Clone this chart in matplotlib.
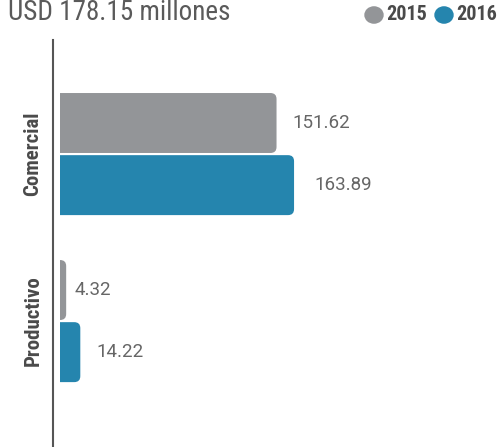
import matplotlib.pyplot as plt
from matplotlib.patches import FancyBboxPatch, Rectangle
from matplotlib import font_manager

# Data (USD millones)
categories = ['Comercial', 'Productivo']
years = ['2015', '2016']
values_2015 = [151.62, 4.32]
values_2016 = [163.89, 14.22]
labels_2015 = ['151.62', '4.32']
labels_2016 = ['163.89', '14.22']
title = 'USD 178.15 millones'

colors = {'2015': '#939598', '2016': '#2585ae'}
text_grey = '#5a5a5a'

# narrowest family available
names = {f.name for f in font_manager.fontManager.ttflist}
narrow = [n for n in ['Roboto Condensed', 'Liberation Sans Narrow', 'DejaVu Sans Condensed', 'Roboto']
          if n in names] or ['DejaVu Sans']
narrow = narrow[:1]
plain = ['Roboto'] if 'Roboto' in names else ['DejaVu Sans']

W, H = 498, 447
fig = plt.figure(figsize=(W / 100, H / 100), dpi=100)
fig.patch.set_facecolor('white')

# axes: left spine at x=53px, top at y=40px, runs to the bottom edge
ax = fig.add_axes([53 / W, 0, (W - 53) / W, (H - 40) / H])

bar_h = 0.359
offset = 0.186
pos = list(range(len(categories)))

bars15 = ax.barh([p - offset for p in pos], values_2015, height=bar_h, color=colors['2015'])
bars16 = ax.barh([p + offset for p in pos], values_2016, height=bar_h, color=colors['2016'])

ax.set_xlim(-4.9, 306.7)
ax.set_ylim(1.754, -0.683)

# swap plain bars for right-rounded ones
px_x = (W - 53) / (306.7 + 4.9)          # px per x unit
px_y = (H - 40) / (1.754 + 0.683)       # px per y unit
rad_px = 6
clip = Rectangle((0, -1), 400, 4, transform=ax.transData, visible=False)
ax.add_patch(clip)
for bars in (bars15, bars16):
    for b in bars:
        x0, y0 = b.get_x(), b.get_y()
        w, h = b.get_width(), b.get_height()
        b.set_visible(False)
        r = min(rad_px / px_x, w * 0.8 + 1)
        fb = FancyBboxPatch((x0 - r, y0), w + r, h,
                            boxstyle=f'round,pad=0,rounding_size={r}',
                            mutation_aspect=px_x / px_y,
                            facecolor=b.get_facecolor(), edgecolor='none')
        ax.add_patch(fb)
        fb.set_clip_path(clip)

# value labels
pads_2015 = [11, 6]
pads_2016 = [14, 11]
for p, v, lab, pad in zip(pos, values_2015, labels_2015, pads_2015):
    ax.text(v + pad, p - offset, lab, va='center', ha='left', fontsize=13.5,
            color='#666666', family=plain)
for p, v, lab, pad in zip(pos, values_2016, labels_2016, pads_2016):
    ax.text(v + pad, p + offset, lab, va='center', ha='left', fontsize=13.5,
            color='#666666', family=plain)

# category labels, rotated
for p, cat in zip(pos, categories):
    ax.text(-19, p, cat, rotation=90, va='center', ha='center', fontsize=15,
            fontweight='bold', color='#4a4a4a', family=narrow)

ax.set_xticks([])
ax.set_yticks([])
for s in ['top', 'right', 'bottom']:
    ax.spines[s].set_visible(False)
ax.spines['left'].set_color('#555555')
ax.spines['left'].set_linewidth(1.5)
ax.set_facecolor('none')

# title
fig.text(8 / W, 1 - 20 / H, title, ha='left', va='baseline', fontsize=19.5,
         color=text_grey, family=narrow)

# legend
for cx, tx, yr in [(374, 386, '2015'), (444, 456, '2016')]:
    fig.patches.append(plt.Circle((cx / W, 1 - 15 / H), 9 / W, transform=fig.transFigure,
                                  color=colors[yr], figure=fig))
    fig.text(tx / W, 1 - 15 / H, yr, ha='left', va='center', fontsize=14.5,
             fontweight='bold', color='#4a4a4a', family=narrow)

fig.savefig('out.png', dpi=100)
